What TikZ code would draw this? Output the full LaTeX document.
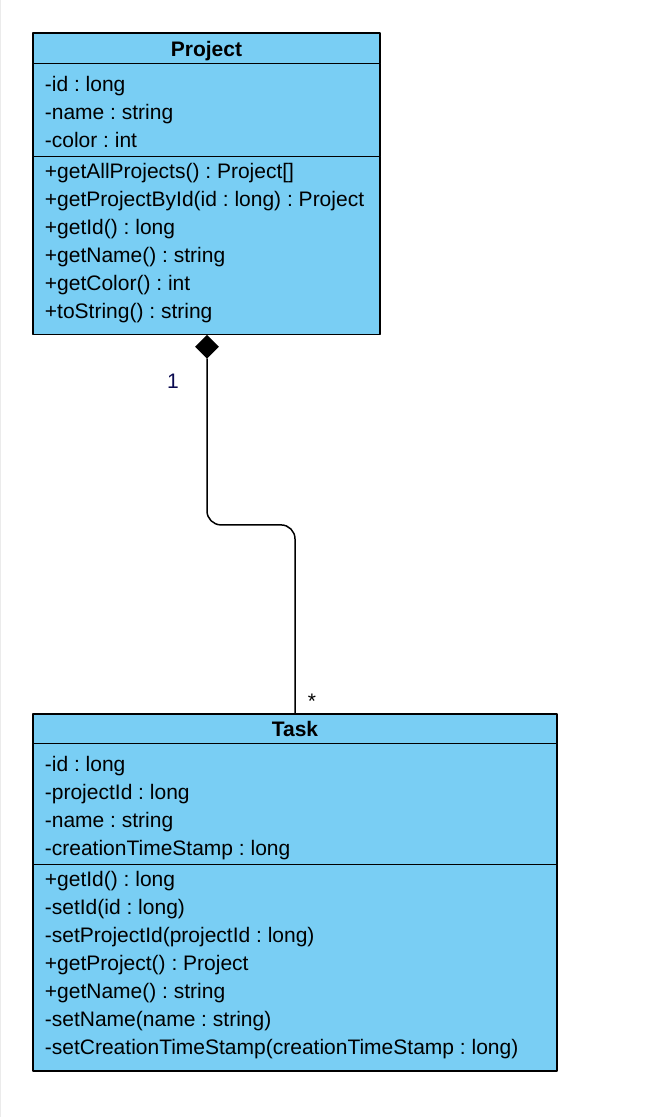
\documentclass[tikz,border=0pt]{standalone}
\usepackage{fontspec}
\setmainfont{Liberation Sans}
\usetikzlibrary{positioning,shapes.geometric}
\definecolor{umlblue}{HTML}{79CEF4}
\definecolor{multcol}{HTML}{0A0A50}
\frenchspacing

\begin{document}
\begin{tikzpicture}[x=1pt,y=-1pt,line cap=round,line join=round,
  every node/.style={font=\fontsize{21}{28}\selectfont},
  umlpart/.style={draw=black,fill=umlblue,line width=1.3pt,inner sep=0pt,outer sep=0pt},
  umlhead/.style={umlpart,font=\fontsize{21}{28}\selectfont\bfseries,text height=16pt,text depth=0pt},
  member/.style={anchor=base west,inner sep=0pt}]
\useasboundingbox (0,0) rectangle (655,1117);
\draw[color=black!8,line width=1pt] (0.5,0) -- (0.5,1117);
% Project class
\node[umlhead,anchor=north west,minimum width=347pt,minimum height=30.5pt] (projecthead) at (33,33) {Project};
\node[umlpart,below=0pt of projecthead,minimum width=347pt,minimum height=92.8pt] (projectattr) {};
\node[umlpart,below=0pt of projectattr,minimum width=347pt,minimum height=178pt] (projectops) {};
\foreach \m [count=\i] in {-id : long,-name : string,-color : int}
  \node[member] (pattr\i) at (44.7,63.5+28*\i) {\m};
\foreach \m [count=\i] in {+getAllProjects() : Project[],+getProjectById(id : long) : Project,
  +getId() : long,+getName() : string,+getColor() : int,+toString() : string}
  \node[member] (pop\i) at (44.7,150+28*\i) {\m};
% Task class
\node[umlhead,anchor=north west,minimum width=524pt,minimum height=29.7pt] (taskhead) at (33,714) {Task};
\node[umlpart,below=0pt of taskhead,minimum width=524pt,minimum height=120.6pt] (taskattr) {};
\node[umlpart,below=0pt of taskattr,minimum width=524pt,minimum height=206.7pt] (taskops) {};
\foreach \m [count=\i] in {-id : long,-projectId : long,-name : string,-creationTimeStamp : long}
  \node[member] (tattr\i) at (44.7,743+28*\i) {\m};
\foreach \m [count=\i] in {+getId() : long,-setId(id : long),-setProjectId(projectId : long),
  +getProject() : Project,+getName() : string,-setName(name : string),
  -setCreationTimeStamp(creationTimeStamp : long)}
  \node[member] (top\i) at (44.7,858+28*\i) {\m};
% composition
\node[diamond,fill=black,inner sep=0pt,minimum width=24pt,minimum height=24pt,anchor=north] (comp) at (207,334.5) {};
\coordinate (tasktop) at (295,714);
\draw[line width=1.5pt,rounded corners=14pt] (comp.south) -- ++(0,166) -| (tasktop);
\node[anchor=base,inner sep=0pt,text=multcol] (multone) at (173,388.3) {1};
\node[anchor=base,inner sep=0pt] (multmany) at (312,708.7) {*};
\end{tikzpicture}
\end{document}
